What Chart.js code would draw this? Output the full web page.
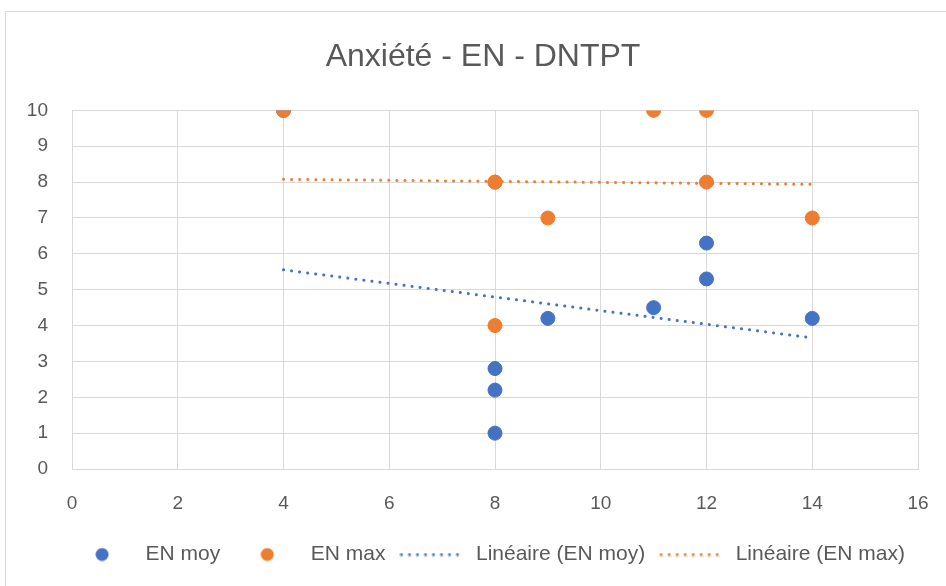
<!DOCTYPE html>
<html>
<head>
<meta charset="utf-8">
<script src="https://cdn.jsdelivr.net/npm/chart.js@4.4.1/dist/chart.umd.min.js"></script>
<style>
  body { margin: 0; background: #fff; }
  #wrap { position: relative; width: 946px; height: 586px; overflow: hidden; }
  #frame { position: absolute; left: 5px; top: 11px; width: 960px; height: 600px; border: 1px solid #d9d9d9; box-sizing: border-box; pointer-events: none; }
</style>
</head>
<body>
<div id="wrap">
  <canvas id="chart" width="946" height="586"></canvas>
  <div id="frame"></div>
</div>
<script>
const title = "Anxiété - EN - DNTPT";
const xValues = [4, 8, 8, 8, 9, 11, 12, 12, 14];
const moyValues = [10, 1, 2.2, 2.8, 4.2, 4.5, 5.3, 6.3, 4.2];
const maxValues = [10, 8, 8, 4, 7, 10, 10, 8, 7];
const seriesNames = ["EN moy", "EN max", "Linéaire (EN moy)", "Linéaire (EN max)"];

const blue = "#4472C4";
const orange = "#ED7D31";
const textColor = "#595959";
const gridColor = "#d9d9d9";
const fontFamily = "'Liberation Sans', sans-serif";

const toPoints = (ys) => xValues.map((x, i) => ({ x: x, y: ys[i] }));

// least squares trend line over the data's x range
const trend = (ys) => {
  const n = xValues.length;
  const mx = xValues.reduce((a, b) => a + b, 0) / n;
  const my = ys.reduce((a, b) => a + b, 0) / n;
  let sxy = 0, sxx = 0;
  xValues.forEach((x, i) => {
    sxy += (x - mx) * (ys[i] - my);
    sxx += (x - mx) * (x - mx);
  });
  const slope = sxy / sxx;
  const lo = Math.min(...xValues), hi = Math.max(...xValues);
  return [lo, hi].map((x) => ({ x: x, y: my + slope * (x - mx) }));
};

// legend symbols
const circleIcon = (color) => {
  const c = document.createElement("canvas");
  c.width = 14; c.height = 14;
  const g = c.getContext("2d");
  g.fillStyle = color;
  g.beginPath(); g.arc(7, 7, 6.5, 0, Math.PI * 2); g.fill();
  return c;
};
const dotsIcon = (color) => {
  const c = document.createElement("canvas");
  c.width = 66; c.height = 4;
  const g = c.getContext("2d");
  g.fillStyle = color;
  for (let x = 2; x < 66; x += 8) {
    g.beginPath(); g.arc(x, 2, 1.5, 0, Math.PI * 2); g.fill();
  }
  return c;
};
const icons = [circleIcon(blue), circleIcon(orange), dotsIcon(blue), dotsIcon(orange)];

const dotted = { borderWidth: 3, borderDash: [0.1, 8], borderCapStyle: "round", pointRadius: 0, fill: false, type: "line" };

// title and legend sit a little right of the canvas centre in the original
const shiftBlocks = {
  id: "shiftBlocks",
  afterLayout: (chart) => {
    chart.titleBlock.left += 24;
    chart.titleBlock.right += 24;
    chart.legend.left += 28;
    chart.legend.right += 28;
  },
};

new Chart(document.getElementById("chart"), {
  type: "scatter",
  data: {
    datasets: [
      { label: seriesNames[0], data: toPoints(moyValues), backgroundColor: blue, borderColor: blue, pointRadius: 7, pointHoverRadius: 7, order: 4 },
      { label: seriesNames[1], data: toPoints(maxValues), backgroundColor: orange, borderColor: orange, pointRadius: 7, pointHoverRadius: 7, order: 3 },
      Object.assign({ label: seriesNames[2], data: trend(moyValues), borderColor: blue, order: 2 }, dotted),
      Object.assign({ label: seriesNames[3], data: trend(maxValues), borderColor: orange, order: 1 }, dotted),
    ],
  },
  plugins: [shiftBlocks],
  options: {
    responsive: false,
    animation: false,
    layout: { padding: { left: 0, right: 28, top: 0, bottom: 11 } },
    plugins: {
      title: {
        display: true,
        text: title,
        color: textColor,
        font: { family: fontFamily, size: 32, weight: "normal" },
        padding: { top: 38, bottom: 34 },
      },
      legend: {
        position: "bottom",
        labels: {
          usePointStyle: true,
          pointStyleWidth: 66,
          color: textColor,
          font: { family: fontFamily, size: 21 },
          padding: 14,
          generateLabels: (chart) => chart.data.datasets.map((ds, i) => ({
            text: ds.label,
            fillStyle: ds.borderColor,
            strokeStyle: ds.borderColor,
            lineWidth: 0,
            pointStyle: icons[i],
            fontColor: textColor,
            datasetIndex: i,
          })),
        },
      },
      tooltip: { enabled: false },
    },
    scales: {
      x: {
        type: "linear",
        min: 0,
        max: 16,
        ticks: { stepSize: 2, color: textColor, font: { family: fontFamily, size: 19 }, padding: 23 },
        grid: { color: gridColor, drawTicks: false },
        border: { color: gridColor },
        afterFit: (scale) => {
          scale.height = 61;
          scale.paddingLeft = 0;
          scale.paddingRight = 0;
        },
      },
      y: {
        min: 0,
        max: 10,
        ticks: { stepSize: 1, color: textColor, font: { family: fontFamily, size: 19 }, padding: 24 },
        grid: { color: gridColor, drawTicks: false },
        border: { color: gridColor },
        afterFit: (scale) => {
          scale.width = 72;
          scale.paddingTop = 0;
          scale.paddingBottom = 0;
        },
      },
    },
  },
});
</script>
</body>
</html>
